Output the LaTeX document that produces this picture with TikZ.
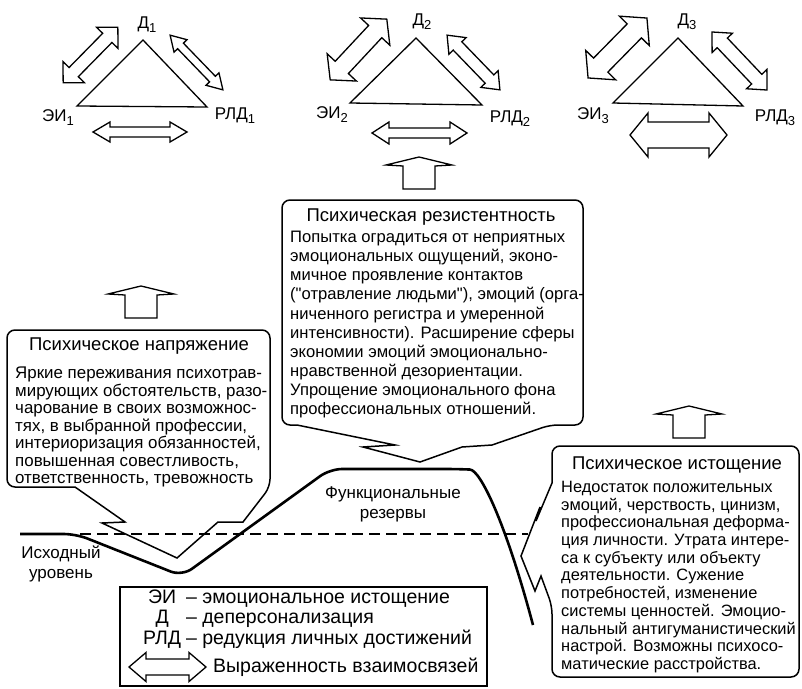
\documentclass[tikz,border=0pt]{standalone}
\usepackage{fontspec}
\setmainfont{Liberation Sans}

\newcommand{\titlefont}{\fontsize{18.5}{20}\selectfont}
\newcommand{\lowidx}[1]{\raisebox{-0.45ex}{\fontsize{13}{13}\selectfont #1}}

% double block arrow: mid x, mid y, angle, half length, shaft half, head half, head length
\newcommand{\dblarrow}[7]{%
  \begin{scope}[shift={(#1,#2)}, rotate=#3]
    \draw[arrowline] (-#4,0) -- (-#4+#7,#6) -- (-#4+#7,#5) -- (#4-#7,#5) -- (#4-#7,#6) -- (#4,0)
      -- (#4-#7,-#6) -- (#4-#7,-#5) -- (-#4+#7,-#5) -- (-#4+#7,-#6) -- cycle;
  \end{scope}}
% open up arrow: centre x, bottom y
\newcommand{\upblock}[2]{%
  \draw[arrowline] (#1-16,#2) -- (#1-16,#2-23) -- (#1-33,#2-24) -- (#1,#2-32)
    -- (#1+33,#2-24) -- (#1+16,#2-23) -- (#1+16,#2) -- cycle;}

\begin{document}
\begin{tikzpicture}[x=1pt, y=-1pt,
    tri/.style = {line width=1.3pt, line join=miter},
    arrowline/.style = {line width=1.3pt, line join=miter},
    boxline/.style = {line width=1.5pt, line join=miter},
    curve/.style = {line width=2.6pt, line join=round},
    vlabel/.style = {inner sep=0pt, font=\fontsize{17}{17}\selectfont},
    title/.style = {inner sep=0pt, font=\titlefont},
    body/.style = {anchor=north west, inner sep=0pt, align=left},
    note/.style = {inner sep=0pt, align=center, font=\fontsize{17}{20}\selectfont},
    key/.style = {inner sep=0pt, anchor=west, font=\fontsize{19.5}{20}\selectfont}]
    \useasboundingbox (0,0) rectangle (802,688);

    % triangles
    \coordinate (d1) at (143,40);
    \coordinate (ei1) at (77,106);
    \coordinate (rld1) at (207,107);
    \coordinate (d2) at (416,38);
    \coordinate (ei2) at (350,103);
    \coordinate (rld2) at (482,105);
    \coordinate (d3) at (678,38);
    \coordinate (ei3) at (613,103);
    \coordinate (rld3) at (743,106);
    \draw[tri] (d1) -- (ei1) -- (rld1) -- cycle;
    \draw[tri] (d2) -- (ei2) -- (rld2) -- cycle;
    \draw[tri] (d3) -- (ei3) -- (rld3) -- cycle;

    \node[vlabel] (ld1) at (147,25) {Д\lowidx{1}};
    \node[vlabel] (lei1) at (58,118) {ЭИ\lowidx{1}};
    \node[vlabel] (lrld1) at (235,116) {РЛД\lowidx{1}};
    \node[vlabel] (ld2) at (422,22) {Д\lowidx{2}};
    \node[vlabel] (lei2) at (332,115) {ЭИ\lowidx{2}};
    \node[vlabel] (lrld2) at (510,119) {РЛД\lowidx{2}};
    \node[vlabel] (ld3) at (687,22) {Д\lowidx{3}};
    \node[vlabel] (lei3) at (593,116) {ЭИ\lowidx{3}};
    \node[vlabel] (lrld3) at (775,118) {РЛД\lowidx{3}};

    \dblarrow{90.5}{55}{45.5}{39}{6.5}{15}{15}
    \dblarrow{196.5}{62.5}{-46}{38}{4}{9}{15}
    \dblarrow{140}{132}{0}{47}{5}{10}{17}
    \dblarrow{358.5}{49.5}{47}{41.5}{9}{20}{17}
    \dblarrow{473.5}{62.5}{-46}{38}{6}{12}{15}
    \dblarrow{419.5}{133}{0}{47.5}{5}{11}{17}
    \dblarrow{617.5}{48}{45.5}{42}{10}{21}{18}
    \dblarrow{739.5}{61}{-46.5}{40}{7}{14}{15}
    \dblarrow{678.5}{135}{0}{48.5}{13}{22}{18}

    \upblock{141}{318}
    \upblock{419}{189}
    \upblock{689}{438}

    % level and curve
    \draw[line width=1.1pt, dash pattern=on 11pt off 6pt] (80,534) -- (528,534);
    \draw[curve] (20,534) [rounded corners=12] -- (76,534) -- (182,576) -- (330,469) -- (458,469)
      [sharp corners] .. controls (480,470) and (505,520) .. (533,625);
    \node[note] (base) at (61,564) {Исходный\\уровень};
    \node[note] (res) at (393,504) {Функциональные\\резервы};

    % callouts
    \draw[boxline] (75,487) [rounded corners=8] -- (7,487) -- (7,330) -- (270,330) -- (270,487)
      [sharp corners] -- (243,522) -- (218,522) -- (177,558) -- (102,523) -- (125,522) -- cycle;
    \node[title] (t1) at (139,346) {Психическое напряжение};
    \node[body, font=\fontsize{16.9}{17.5}\selectfont] (p1) at (15,367) {Яркие переживания психотрав-\\
      мирующих обстоятельств, разо-\\
      чарование в своих возможнос-\\
      тях, в выбранной профессии,\\
      интериоризация обязанностей,\\
      повышенная совестливость,\\
      ответственность, тревожность};

    \draw[boxline] (297,425) [rounded corners=8] -- (282,425) -- (282,200) -- (583,200) -- (583,425) -- (550,425)
      [sharp corners] -- (492,445) -- (462,447) -- (420,462) -- (363,447) -- (395,445) -- cycle;
    \node[title] (t2) at (431,217) {Психическая резистентность};
    \node[body, font=\fontsize{16.6}{19.1}\selectfont] (p2) at (290,231) {Попытка оградиться от неприятных\\
      эмоциональных ощущений, эконо-\\
      мичное проявление контактов\\
      (\textquotedbl отравление людьми\textquotedbl), эмоций (орга-\\
      ниченного регистра и умеренной\\
      интенсивности). Расширение сферы\\
      экономии эмоций эмоционально-\\
      нравственной дезориентации.\\
      Упрощение эмоционального фона\\
      профессиональных отношений.};

    \draw[boxline] (552,483) [rounded corners=8] -- (552,446) -- (799,446) -- (799,677) -- (552,677) -- (552,606)
      [sharp corners] -- (541,576) -- (535,591) -- (521,556) -- (540,507) -- (536,521) -- cycle;
    \node[title] (t3) at (677,465) {Психическое истощение};
    \node[body, font=\fontsize{16.4}{17.7}\selectfont] (p3) at (561,481) {Недостаток положительных\\
      эмоций, черствость, цинизм,\\
      профессиональная деформа-\\
      ция личности. Утрата интере-\\
      са к субъекту или объекту\\
      деятельности. Сужение\\
      потребностей, изменение\\
      системы ценностей. Эмоцио-\\
      нальный антигуманистический\\
      настрой. Возможны психосо-\\
      матические расстройства.};

    % legend
    \node[draw, line width=1.3pt, minimum width=367pt, minimum height=99pt, inner sep=0pt] (legend) at (303.5,636.5) {};
    \node[key] (keys) at (143,620)
      {\begin{tabular}{@{}c@{\hspace{5pt}}l@{}}
        ЭИ & – эмоциональное истощение\\
        Д & – деперсонализация\\
        РЛД & – редукция личных достижений
      \end{tabular}};
    \dblarrow{167.5}{667}{0}{38.5}{8}{14.5}{17}
    \node[key] (linkkey) at (213,667) {Выраженность взаимосвязей};
\end{tikzpicture}
\end{document}
